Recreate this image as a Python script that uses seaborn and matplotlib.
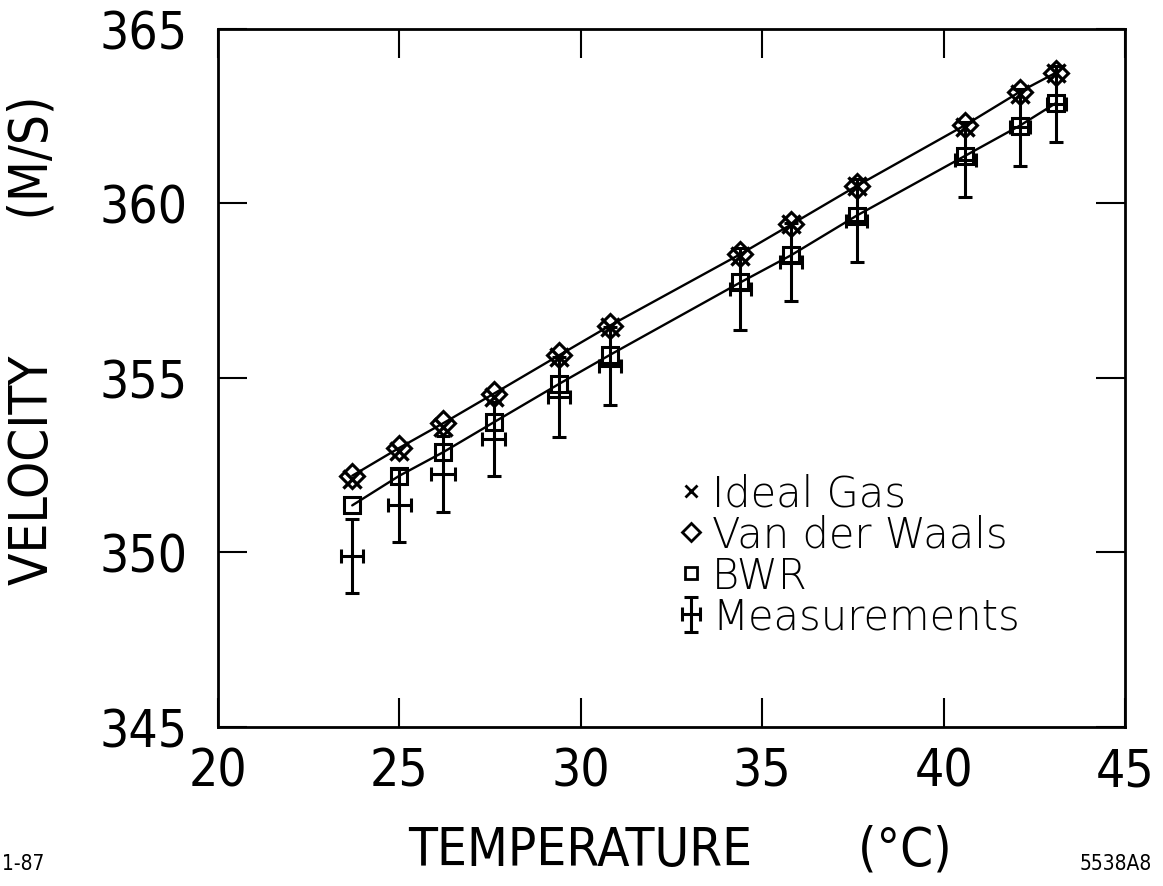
#!/usr/bin/env python3

import pandas as pd
import seaborn as sns
from matplotlib import pyplot as plt
from matplotlib.container import ErrorbarContainer
from matplotlib.legend_handler import HandlerErrorbar
from matplotlib.lines import Line2D

temps = [23.7, 25.0, 26.2, 27.6, 29.4, 30.8, 34.4, 35.8, 37.6, 40.6, 42.1, 43.1]
temp_err = [0.31, 0.31, 0.32, 0.32, 0.3, 0.3, 0.3, 0.3, 0.3, 0.29, 0.28, 0.26]
ideal_gas = [352.1, 352.9, 353.6, 354.45, 355.6, 356.45, 358.5, 359.4, 360.5, 362.2, 363.15, 363.75]
van_der_waals = [352.2, 353.0, 353.7, 354.55, 355.65, 356.5, 358.55, 359.4, 360.5, 362.25, 363.2, 363.75]
bwr = [351.35, 352.2, 352.87, 353.73, 354.83, 355.66, 357.74, 358.52, 359.65, 361.37, 362.23, 362.88]
measured = [349.9, 351.35, 352.25, 353.25, 354.45, 355.35, 357.55, 358.33, 359.51, 361.26, 362.18, 362.85]
measured_err = [1.05, 1.05, 1.08, 1.07, 1.15, 1.12, 1.17, 1.12, 1.2, 1.07, 1.1, 1.1]

labels = ["Ideal Gas", "Van der Waals", "BWR", "Measurements"]


def plot():
    sns.set_theme(style="white", rc={"text.color": "black", "axes.labelcolor": "black",
                                     "xtick.color": "black", "ytick.color": "black"})
    plt.rcParams['font.family'] = ['DejaVu Sans']
    plt.rcParams['font.stretch'] = 'condensed'

    df = pd.DataFrame({"T": temps, "Ideal": ideal_gas, "VdW": van_der_waals, "BWR": bwr})

    fig = plt.figure(figsize=(11.63, 8.87), dpi=100)
    ax = fig.add_axes([218 / 1163, 1 - 728 / 887, 907 / 1163, 698 / 887])

    # model curves
    sns.lineplot(df, x="T", y="VdW", ax=ax, color="black", lw=1.7, marker="D", ms=12,
                 mfc="none", mec="black", mew=2.2)
    sns.lineplot(df, x="T", y="BWR", ax=ax, color="black", lw=1.7, marker="s", ms=12,
                 mfc="none", mec="black", mew=2.2)
    sns.scatterplot(df, x="T", y="Ideal", ax=ax, color="black", marker="x", s=170, linewidth=2.4)

    # measurements with errors both ways
    meas = ax.errorbar(temps, measured, yerr=measured_err, xerr=temp_err, fmt="none", ecolor="black",
                       elinewidth=2.2, capsize=5, capthick=2.2)

    ax.set_xlim(20, 45)
    ax.set_ylim(345, 365)
    ax.set_xticks(range(20, 46, 5))
    ax.set_yticks(range(345, 366, 5))
    ax.tick_params(direction="in", length=21, width=1.5, labelsize=37, top=True, right=True,
                   bottom=True, left=True)
    ax.tick_params(axis="x", pad=14)
    ax.tick_params(axis="y", pad=22)
    for s in ax.spines.values():
        s.set_linewidth(2)
        s.set_color("black")

    ax.set_xlabel("TEMPERATURE       (°C)", fontsize=38)
    ax.set_ylabel("VELOCITY         (M/S)", fontsize=38)
    ax.xaxis.set_label_coords(0.509, -0.138)
    ax.yaxis.set_label_coords(-0.176, 0.556)

    handles = [
        Line2D([], [], ls="none", marker="x", color="black", ms=9, mew=2),
        Line2D([], [], ls="none", marker="D", mfc="none", mec="black", ms=9, mew=2),
        Line2D([], [], ls="none", marker="s", mfc="none", mec="black", ms=9, mew=2),
        meas,
    ]
    ax.legend(handles, labels, loc="upper left", bbox_to_anchor=(0.492, 0.388), frameon=False,
              handlelength=0.5, handletextpad=0.25, labelspacing=0.0, borderaxespad=0,
              handler_map={ErrorbarContainer: HandlerErrorbar(xerr_size=0.22, yerr_size=0.42)},
              prop={"family": "DejaVu Sans", "size": 30, "weight": "light", "stretch": "normal"})

    fig.text(0.002, 0.015, "1-87", fontsize=15, ha="left", va="bottom")
    fig.text(0.99, 0.015, "5538A8", fontsize=15, ha="right", va="bottom")

    plt.savefig("out.png", dpi=100)
    plt.close()


def main():
    plot()


if __name__ == '__main__':
    main()
